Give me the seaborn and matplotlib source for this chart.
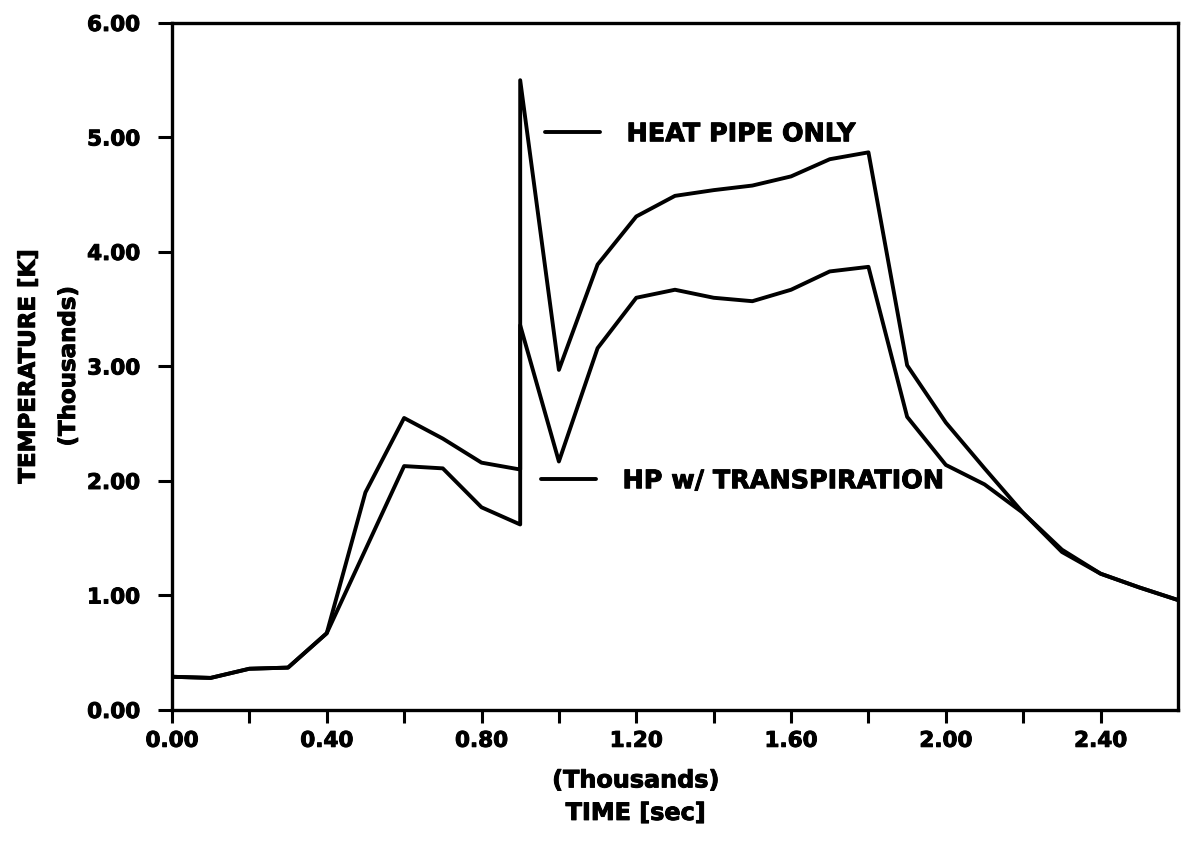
import numpy as np
import pandas as pd
import matplotlib
matplotlib.use("Agg")
import matplotlib.pyplot as plt
import matplotlib.patheffects as pe
from matplotlib.ticker import FixedLocator, FormatStrFormatter
import seaborn as sns

# Time in thousands of seconds; 0.9 appears twice for the step change
time_k = [0.0, 0.1, 0.2, 0.3, 0.4, 0.5, 0.6, 0.7, 0.8, 0.9, 0.9,
          1.0, 1.1, 1.2, 1.3, 1.4, 1.5, 1.6, 1.7, 1.8, 1.9,
          2.0, 2.1, 2.2, 2.3, 2.4, 2.5, 2.6]

# Temperature in thousands of kelvin
heat_pipe_only = [0.29, 0.28, 0.36, 0.37, 0.67, 1.90, 2.55, 2.37, 2.16, 2.10, 5.50,
                  2.97, 3.89, 4.31, 4.49, 4.54, 4.58, 4.66, 4.81, 4.87, 3.01,
                  2.51, 2.11, 1.72, 1.40, 1.19, 1.07, 0.96]
hp_transpiration = [0.29, 0.28, 0.36, 0.37, 0.67, 1.40, 2.13, 2.11, 1.77, 1.62, 3.36,
                    2.17, 3.16, 3.60, 3.67, 3.60, 3.57, 3.67, 3.83, 3.87, 2.56,
                    2.14, 1.97, 1.72, 1.38, 1.19, 1.07, 0.96]

series_names = ["HEAT PIPE ONLY", "HP w/ TRANSPIRATION"]

x_major = [0.0, 0.4, 0.8, 1.2, 1.6, 2.0, 2.4]
x_minor = [0.2, 0.6, 1.0, 1.4, 1.8, 2.2]
y_major = [0, 1, 2, 3, 4, 5, 6]

df = pd.concat([
    pd.DataFrame({"time": time_k, "temp": heat_pipe_only, "series": series_names[0]}),
    pd.DataFrame({"time": time_k, "temp": hp_transpiration, "series": series_names[1]}),
], ignore_index=True)

sns.set_theme(style="white")
plt.rcParams["font.family"] = ["DejaVu Sans"]
plt.rcParams["font.weight"] = "bold"
for key in ["text.color", "axes.labelcolor", "xtick.color", "ytick.color"]:
    plt.rcParams[key] = "black"

# slight stroke to give the heavy typewriter-bold look
heavy = [pe.withStroke(linewidth=0.7, foreground="black")]

fig = plt.figure(figsize=(11.85, 8.41), dpi=100)
ax = fig.add_axes([0.1451, 0.1558, 0.8490, 0.8169])

sns.lineplot(data=df, x="time", y="temp", hue="series", estimator=None, sort=False,
             palette=["black", "black"], linewidth=2.8, legend=False, ax=ax)

ax.set_xlim(0, 2.6)
ax.set_ylim(0, 6)

ax.xaxis.set_major_locator(FixedLocator(x_major))
ax.xaxis.set_minor_locator(FixedLocator(x_minor))
ax.yaxis.set_major_locator(FixedLocator(y_major))
ax.xaxis.set_major_formatter(FormatStrFormatter("%.2f"))
ax.yaxis.set_major_formatter(FormatStrFormatter("%.2f"))

ax.tick_params(axis="x", which="both", direction="out", length=9, width=2.2,
               color="black", pad=6, labelsize=15.5, bottom=True)
ax.tick_params(axis="y", which="major", direction="out", length=10, width=2.2,
               color="black", pad=13, labelsize=15.5, left=True)
for lbl in ax.get_xticklabels() + ax.get_yticklabels():
    lbl.set_fontweight("bold")
    lbl.set_path_effects(heavy)

for side in ["left", "right", "top", "bottom"]:
    ax.spines[side].set_visible(True)
    ax.spines[side].set_color("black")
    ax.spines[side].set_linewidth(2.4)

ax.set_xlabel("(Thousands)\nTIME [sec]", fontsize=17.2, fontweight="bold", linespacing=1.45,
              path_effects=heavy)
ax.xaxis.set_label_coords(0.461, -0.085)
ax.set_ylabel("TEMPERATURE [K]\n(Thousands)", fontsize=16.5, fontweight="bold", linespacing=1.95,
              path_effects=heavy)
ax.yaxis.set_label_coords(-0.0915, 0.5)

lines = ax.get_lines()
leg_font = {"size": 18.3, "weight": "bold"}
leg1 = ax.legend(handles=[lines[0]], labels=[series_names[0]], loc="center left",
                 bbox_to_anchor=(0.371, 0.838), frameon=False, borderpad=0, borderaxespad=0,
                 handlelength=2.15, handletextpad=1.05, prop=leg_font)
ax.add_artist(leg1)
leg2 = ax.legend(handles=[lines[1]], labels=[series_names[1]], loc="center left",
                 bbox_to_anchor=(0.367, 0.333), frameon=False, borderpad=0, borderaxespad=0,
                 handlelength=2.15, handletextpad=1.05, prop=leg_font)
for leg in (leg1, leg2):
    for t in leg.get_texts():
        t.set_color("black")
        t.set_path_effects(heavy)

fig.savefig("out.png", dpi=100, facecolor="white")
